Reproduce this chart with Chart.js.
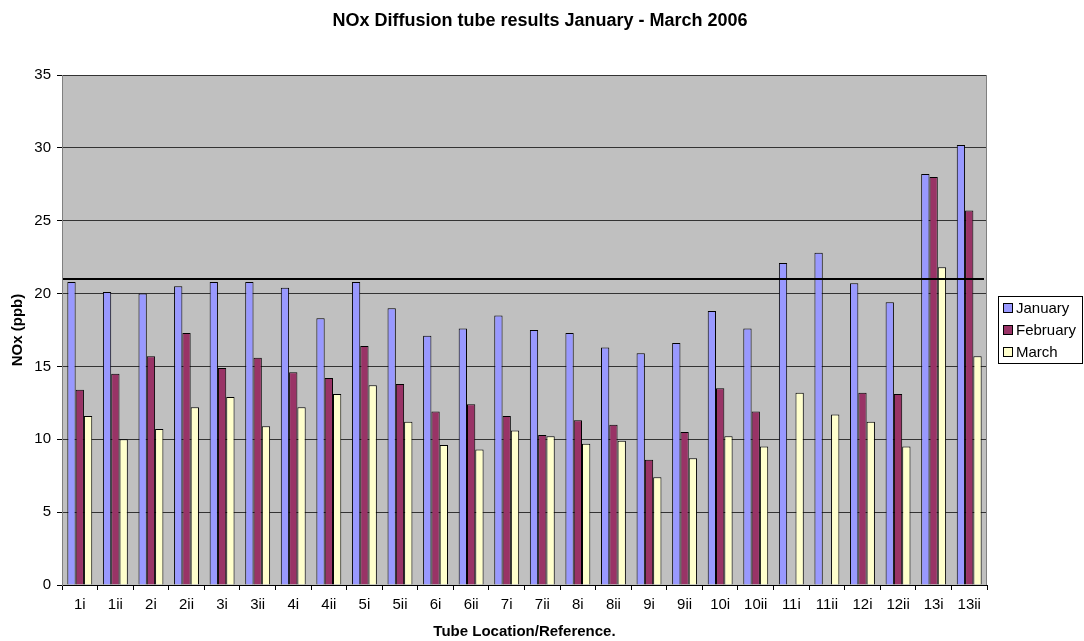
<!DOCTYPE html>
<html>
<head>
<meta charset="utf-8">
<script src="https://cdn.jsdelivr.net/npm/chart.js@4/dist/chart.umd.min.js"></script>
<style>
  html, body { margin: 0; padding: 0; background: #ffffff; }
  #wrap { width: 1084px; height: 641px; }
</style>
</head>
<body>
<div id="wrap"><canvas id="chart" width="1084" height="641"></canvas></div>
<script>
// Tube references along the x axis
const tubeLabels = ['1i', '1ii', '2i', '2ii', '3i', '3ii', '4i', '4ii', '5i', '5ii', '6i', '6ii', '7i',
  '7ii', '8i', '8ii', '9i', '9ii', '10i', '10ii', '11i', '11ii', '12i', '12ii', '13i', '13ii'];

// Monthly NOx readings (ppb); null = no result for that month
const january = [20.8, 20.1, 20.0, 20.5, 20.8, 20.8, 20.4, 18.3, 20.8, 19.0, 17.1, 17.6, 18.5,
  17.5, 17.3, 16.3, 15.9, 16.6, 18.8, 17.6, 22.1, 22.8, 20.7, 19.4, 28.2, 30.2];
const february = [13.4, 14.5, 15.7, 17.3, 14.9, 15.6, 14.6, 14.2, 16.4, 13.8, 11.9, 12.4, 11.6,
  10.3, 11.3, 11.0, 8.6, 10.5, 13.5, 11.9, null, null, 13.2, 13.1, 28.0, 25.7];
const march = [11.6, 10.0, 10.7, 12.2, 12.9, 10.9, 12.2, 13.1, 13.7, 11.2, 9.6, 9.3, 10.6,
  10.2, 9.7, 9.9, 7.4, 8.7, 10.2, 9.5, 13.2, 11.7, 11.2, 9.5, 21.8, 15.7];

// Reference level marked across the plot (ppb)
const objectiveLevel = 21;

// Y axis range
const yMin = 0, yMax = 35, yStep = 5;

const chartTitle = 'NOx Diffusion tube results January - March 2006';

const FONT = "'Liberation Sans', Arial, sans-serif";

// Grey plot background
const plotBackground = {
  id: 'plotBackground',
  beforeDraw(chart) {
    const { ctx, chartArea: a } = chart;
    ctx.save();
    ctx.fillStyle = '#c0c0c0';
    ctx.fillRect(a.left, a.top, a.right - a.left, a.bottom - a.top);
    ctx.restore();
  }
};

// Right-hand frame edge and the objective line
const plotOverlay = {
  id: 'plotOverlay',
  afterDatasetsDraw(chart) {
    const { ctx, chartArea: a, scales } = chart;
    ctx.save();
    ctx.strokeStyle = '#808080';
    ctx.lineWidth = 1;
    ctx.beginPath();
    ctx.moveTo(Math.round(a.right) - 0.5, a.top);
    ctx.lineTo(Math.round(a.right) - 0.5, a.bottom);
    ctx.stroke();

    const y = Math.round(scales.y.getPixelForValue(objectiveLevel));
    ctx.strokeStyle = '#000000';
    ctx.lineWidth = 2;
    ctx.beginPath();
    ctx.moveTo(a.left + 1, y);
    ctx.lineTo(a.right - 3, y);
    ctx.stroke();
    ctx.restore();
  }
};

// Title centred across the whole canvas
const pageTitle = {
  id: 'pageTitle',
  afterDraw(chart) {
    const { ctx } = chart;
    ctx.save();
    ctx.font = 'bold 18px ' + FONT;
    ctx.fillStyle = '#000000';
    ctx.textAlign = 'center';
    ctx.textBaseline = 'middle';
    ctx.fillText(chartTitle, chart.width / 2 - 2, 21);
    ctx.restore();
  }
};

// Boxed legend on the right
const boxedLegend = {
  id: 'boxedLegend',
  afterDraw(chart) {
    const { ctx } = chart;
    const x0 = 998.5, y0 = 296.5, w = 84, h = 67;
    ctx.save();
    ctx.fillStyle = '#ffffff';
    ctx.fillRect(x0, y0, w, h);
    ctx.strokeStyle = '#000000';
    ctx.lineWidth = 1;
    ctx.strokeRect(x0, y0, w, h);
    ctx.font = '15px ' + FONT;
    ctx.textBaseline = 'middle';
    ctx.textAlign = 'left';
    chart.data.datasets.forEach((ds, i) => {
      const cy = 308 + i * 22;
      ctx.fillStyle = ds.backgroundColor;
      ctx.fillRect(1003.5, cy - 4.5, 9, 9);
      ctx.strokeStyle = '#000000';
      ctx.strokeRect(1003.5, cy - 4.5, 9, 9);
      ctx.fillStyle = '#000000';
      ctx.fillText(ds.label, 1016, cy + 1);
    });
    ctx.restore();
  }
};

const barStyle = { borderColor: '#000000', borderWidth: 1, categoryPercentage: 0.70, barPercentage: 1.0 };

new Chart(document.getElementById('chart'), {
  type: 'bar',
  data: {
    labels: tubeLabels,
    datasets: [
      { label: 'January', data: january, backgroundColor: '#9999ff', ...barStyle },
      { label: 'February', data: february, backgroundColor: '#993366', ...barStyle },
      { label: 'March', data: march, backgroundColor: '#ffffcc', ...barStyle }
    ]
  },
  options: {
    responsive: false,
    devicePixelRatio: 1,
    animation: false,
    layout: { padding: { left: 0, right: 97, top: 75, bottom: 0 } },
    plugins: {
      legend: { display: false },
      tooltip: { enabled: false },
      title: { display: false }
    },
    scales: {
      x: {
        offset: true,
        grid: { display: true, drawOnChartArea: false, drawTicks: true, tickLength: 5, color: '#000000', offset: true },
        border: { display: true, color: '#000000', width: 1 },
        ticks: { color: '#000000', font: { family: FONT, size: 15 }, padding: 6, maxRotation: 0, autoSkip: false },
        title: {
          display: true,
          text: 'Tube Location/Reference.',
          color: '#000000',
          font: { family: FONT, size: 15, weight: 'bold' },
          padding: { top: 0, bottom: 0 }
        },
        afterFit(scale) { scale.height = 56; }
      },
      y: {
        min: yMin,
        max: yMax,
        ticks: { stepSize: yStep, color: '#000000', font: { family: FONT, size: 15 }, padding: 6 },
        grid: { color: '#333333', lineWidth: 1, drawTicks: true, tickLength: 5, tickColor: '#000000' },
        border: { display: true, color: '#808080', width: 1 },
        title: {
          display: true,
          text: 'NOx (ppb)',
          color: '#000000',
          font: { family: FONT, size: 15, weight: 'bold' },
          padding: { top: 9, bottom: 0 }
        },
        afterFit(scale) { scale.width = 62; }
      }
    }
  },
  plugins: [plotBackground, plotOverlay, pageTitle, boxedLegend]
});
</script>
</body>
</html>
